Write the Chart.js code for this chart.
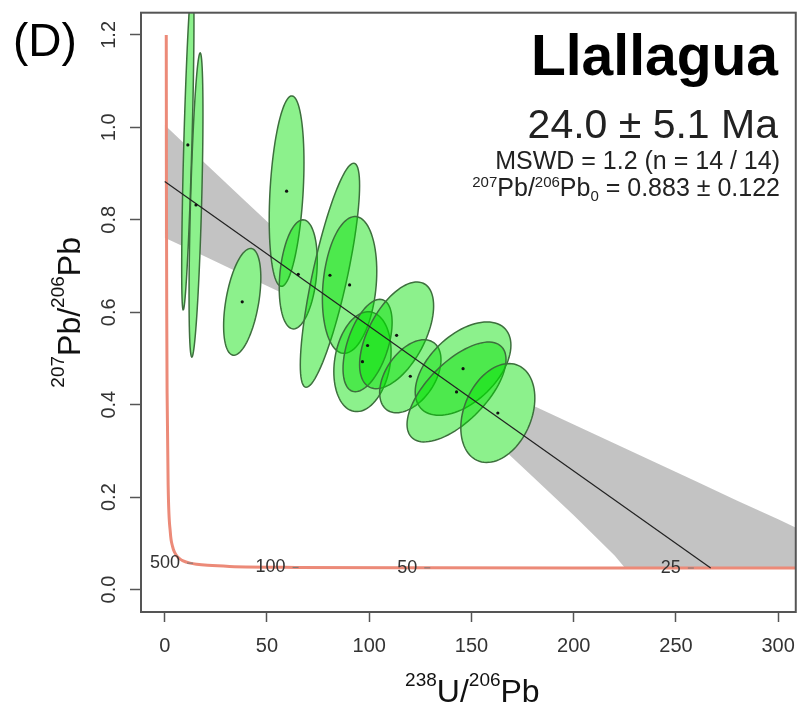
<!DOCTYPE html>
<html>
<head>
<meta charset="utf-8">
<script src="https://cdn.jsdelivr.net/npm/chart.js@4.4.1/dist/chart.umd.min.js"></script>
<style>
  html, body { margin: 0; padding: 0; background: #fff; }
  canvas { display: block; }
</style>
</head>
<body>
<canvas id="tw" width="807" height="705"></canvas>
<script>
const FONT = '"Liberation Sans", Arial, sans-serif';

// axis ticks
const xTicks = [0, 50, 100, 150, 200, 250, 300];
const yTicks = [0.0, 0.2, 0.4, 0.6, 0.8, 1.0, 1.2];
const yTickLabels = ['0.0', '0.2', '0.4', '0.6', '0.8', '1.0', '1.2'];

// Tera-Wasserburg concordia
const concordiaX = [0.75, 0.853, 0.99, 1.163, 1.688, 2.75, 3.817, 4.887, 5.959, 7.568, 8.717, 12.4, 15.62, 21.0, 31.7, 64.0, 128.4, 257.3, 321.8];
const concordiaY = [1.2, 0.846, 0.597, 0.425, 0.223, 0.123, 0.0936, 0.0802, 0.0725, 0.0658, 0.0628, 0.0572, 0.0547, 0.0524, 0.0501, 0.0480, 0.0470, 0.0466, 0.0464];

// age marks on the concordia (Ma)
const ageLabels = ['500', '100', '50', '25'];
const ageX = [12.4, 64.0, 128.4, 257.3];
const ageY = [0.0572, 0.0480, 0.0470, 0.0466];

// discordia regression line
const fitX = [0, 267];
const fitY = [0.883, 0.0466];

// 95% envelope of the regression
const bandX = [0, 20, 40, 60, 80, 100, 120, 140, 160, 180, 200, 220, 225, 240, 260, 280, 300, 310];
const bandUpper = [1.005, 0.921, 0.838, 0.755, 0.673, 0.596, 0.532, 0.484, 0.440, 0.398, 0.357, 0.316, 0.306, 0.275, 0.234, 0.192, 0.152, 0.131];
const bandLower = [0.761, 0.720, 0.678, 0.636, 0.593, 0.547, 0.486, 0.409, 0.327, 0.244, 0.161, 0.074, 0.047, 0.047, 0.047, 0.047, 0.047, 0.047];

// analyses: centre, half extent in x and y, error correlation
const ellX   = [11.3, 15.3, 37.9, 59.6, 65.3, 80.8, 90.4, 96.7, 99.2, 113.4, 120.1, 145.9, 142.7, 162.9];
const ellY   = [0.962, 0.832, 0.6225, 0.862, 0.682, 0.680, 0.659, 0.493, 0.528, 0.550, 0.4615, 0.478, 0.4275, 0.382];
const ellDX  = [3.0, 3.4, 9.1, 8.5, 9.3, 14.5, 13.3, 14.0, 12.0, 18.1, 15.0, 23.4, 24.2, 18.1];
const ellDY  = [0.357, 0.329, 0.1155, 0.206, 0.118, 0.2424, 0.148, 0.108, 0.100, 0.1154, 0.079, 0.101, 0.108, 0.107];
const ellRho = [0.75, 0.6, 0.45, 0.3, 0.25, 0.8, 0.2, 0.2, 0.5, 0.55, 0.45, 0.5, 0.65, 0.3];

const xy = (xs, ys) => xs.map((x, i) => ({ x, y: ys[i] }));

function richText(ctx, parts, x, y, align) {
  const fontOf = p => `${p[3] || 'normal'} ${p[1]}px ${FONT}`;
  const widths = parts.map(p => { ctx.font = fontOf(p); return ctx.measureText(p[0]).width; });
  const total = widths.reduce((a, b) => a + b, 0);
  let cx = align === 'right' ? x - total : align === 'center' ? x - total / 2 : x;
  ctx.textAlign = 'left';
  ctx.textBaseline = 'alphabetic';
  parts.forEach((p, i) => {
    ctx.font = fontOf(p);
    ctx.fillText(p[0], cx, y + (p[2] || 0));
    cx += widths[i];
  });
}

function ellipsePath(ctx, x, y, i) {
  const r = ellRho[i], q = Math.sqrt(1 - r * r);
  ctx.beginPath();
  for (let k = 0; k <= 90; k++) {
    const t = k / 90 * 2 * Math.PI;
    const px = x.getPixelForValue(ellX[i] + ellDX[i] * Math.cos(t));
    const py = y.getPixelForValue(ellY[i] + ellDY[i] * (r * Math.cos(t) + q * Math.sin(t)));
    if (k) ctx.lineTo(px, py); else ctx.moveTo(px, py);
  }
  ctx.closePath();
}

function drawEllipses(chart) {
  const { ctx, chartArea: a, scales: { x, y } } = chart;
  ctx.save();
  ctx.beginPath();
  ctx.rect(a.left, a.top, a.right - a.left, a.bottom - a.top);
  ctx.clip();
  // blank out the envelope underneath the error ellipses
  ctx.fillStyle = '#fff';
  for (let i = 0; i < ellX.length; i++) { ellipsePath(ctx, x, y, i); ctx.fill(); }
  for (let i = 0; i < ellX.length; i++) {
    ellipsePath(ctx, x, y, i);
    ctx.fillStyle = 'rgba(0, 225, 0, 0.45)';
    ctx.fill();
    ctx.strokeStyle = '#3d6f3d';
    ctx.lineWidth = 1.5;
    ctx.stroke();
  }
  ctx.restore();
}

const decor = {
  id: 'decor',
  afterDatasetDraw(chart, args) {
    if (chart.data.datasets[args.index].label === 'concordia') drawEllipses(chart);
  },
  afterDatasetsDraw(chart) {
    const { ctx, scales: { x, y } } = chart;
    ctx.save();
    ctx.fillStyle = '#333';
    ctx.font = `18px ${FONT}`;
    ctx.textAlign = 'right';
    ctx.textBaseline = 'middle';
    ageLabels.forEach((t, i) => {
      ctx.fillText(t, x.getPixelForValue(ageX[i]) - 10, y.getPixelForValue(ageY[i]));
    });
    ctx.restore();
  },
  afterDraw(chart) {
    const { ctx, chartArea: a, scales: { y } } = chart;
    ctx.save();
    // frame
    ctx.strokeStyle = '#555';
    ctx.lineWidth = 2;
    ctx.strokeRect(a.left, a.top, a.right - a.left, a.bottom - a.top);

    // rotated y tick labels
    ctx.fillStyle = '#333';
    ctx.font = `20px ${FONT}`;
    ctx.textAlign = 'center';
    ctx.textBaseline = 'alphabetic';
    yTicks.forEach((v, i) => {
      ctx.save();
      ctx.translate(115, y.getPixelForValue(v));
      ctx.rotate(-Math.PI / 2);
      ctx.fillText(yTickLabels[i], 0, 0);
      ctx.restore();
    });

    // axis titles
    ctx.fillStyle = '#111';
    richText(ctx, [['238', 19, -16], ['U/', 32], ['206', 19, -16], ['Pb', 32]], (a.left + a.right) / 2 + 4, 702, 'center');
    ctx.save();
    ctx.translate(80, (a.top + a.bottom) / 2);
    ctx.rotate(-Math.PI / 2);
    richText(ctx, [['207', 19, -16], ['Pb/', 32], ['206', 19, -16], ['Pb', 32]], 0, 0, 'center');
    ctx.restore();

    // panel letter and sample annotation
    ctx.fillStyle = '#000';
    richText(ctx, [['(D)', 46]], 13, 56, 'left');
    richText(ctx, [['Llallagua', 57, 0, 'bold']], 778, 75, 'right');
    ctx.fillStyle = '#222';
    richText(ctx, [['24.0 \u00b1 5.1 Ma', 41]], 778, 138, 'right');
    richText(ctx, [['MSWD = 1.2 (n = 14 / 14)', 25]], 780, 169, 'right');
    richText(ctx, [['207', 15, -9], ['Pb/', 25], ['206', 15, -9], ['Pb', 25], ['0', 15, 5], [' = 0.883 \u00b1 0.122', 25]], 780, 196, 'right');
    ctx.restore();
  }
};

new Chart(document.getElementById('tw'), {
  type: 'line',
  data: {
    datasets: [
      { label: 'band-upper', data: xy(bandX, bandUpper), fill: '+1', backgroundColor: 'rgba(185, 185, 185, 0.85)', borderWidth: 0, pointRadius: 0, order: 6 },
      { label: 'band-lower', data: xy(bandX, bandLower), fill: false, borderWidth: 0, pointRadius: 0, order: 6 },
      { label: 'concordia', data: xy(concordiaX, concordiaY), borderColor: '#ec8a78', borderWidth: 3, pointRadius: 0, cubicInterpolationMode: 'monotone', order: 4 },
      { label: 'discordia', data: xy(fitX, fitY), borderColor: '#222', borderWidth: 1.2, pointRadius: 0, order: 3 },
      { label: 'centres', type: 'scatter', data: xy(ellX, ellY), pointRadius: 1.6, backgroundColor: '#111', borderWidth: 0, order: 1 },
      { label: 'ages', type: 'scatter', data: xy(ageX, ageY), pointStyle: 'line', pointRadius: 3, borderColor: '#777', borderWidth: 1, order: 0 },
    ],
  },
  options: {
    responsive: false,
    animation: false,
    layout: { padding: { top: 12.7, right: 4, left: 0, bottom: 0 } },
    plugins: { legend: { display: false }, tooltip: { enabled: false } },
    scales: {
      x: {
        type: 'linear',
        min: -11.6,
        max: 308.6,
        afterBuildTicks: s => { s.ticks = xTicks.map(v => ({ value: v })); },
        afterFit: s => { s.height = 93; },
        grid: { drawOnChartArea: false, drawTicks: true, tickLength: 10, tickColor: '#555', tickWidth: 1.5 },
        border: { display: false },
        ticks: { color: '#333', font: { family: FONT, size: 20 }, padding: 12, maxRotation: 0, autoSkip: false, callback: v => String(v) },
      },
      y: {
        type: 'linear',
        min: -0.0485,
        max: 1.248,
        afterBuildTicks: s => { s.ticks = yTicks.map(v => ({ value: v })); },
        afterFit: s => { s.width = 141; },
        grid: { drawOnChartArea: false, drawTicks: true, tickLength: 11, tickColor: '#555', tickWidth: 1.5 },
        border: { display: false },
        ticks: { display: false },
      },
    },
  },
  plugins: [decor],
});
</script>
</body>
</html>
